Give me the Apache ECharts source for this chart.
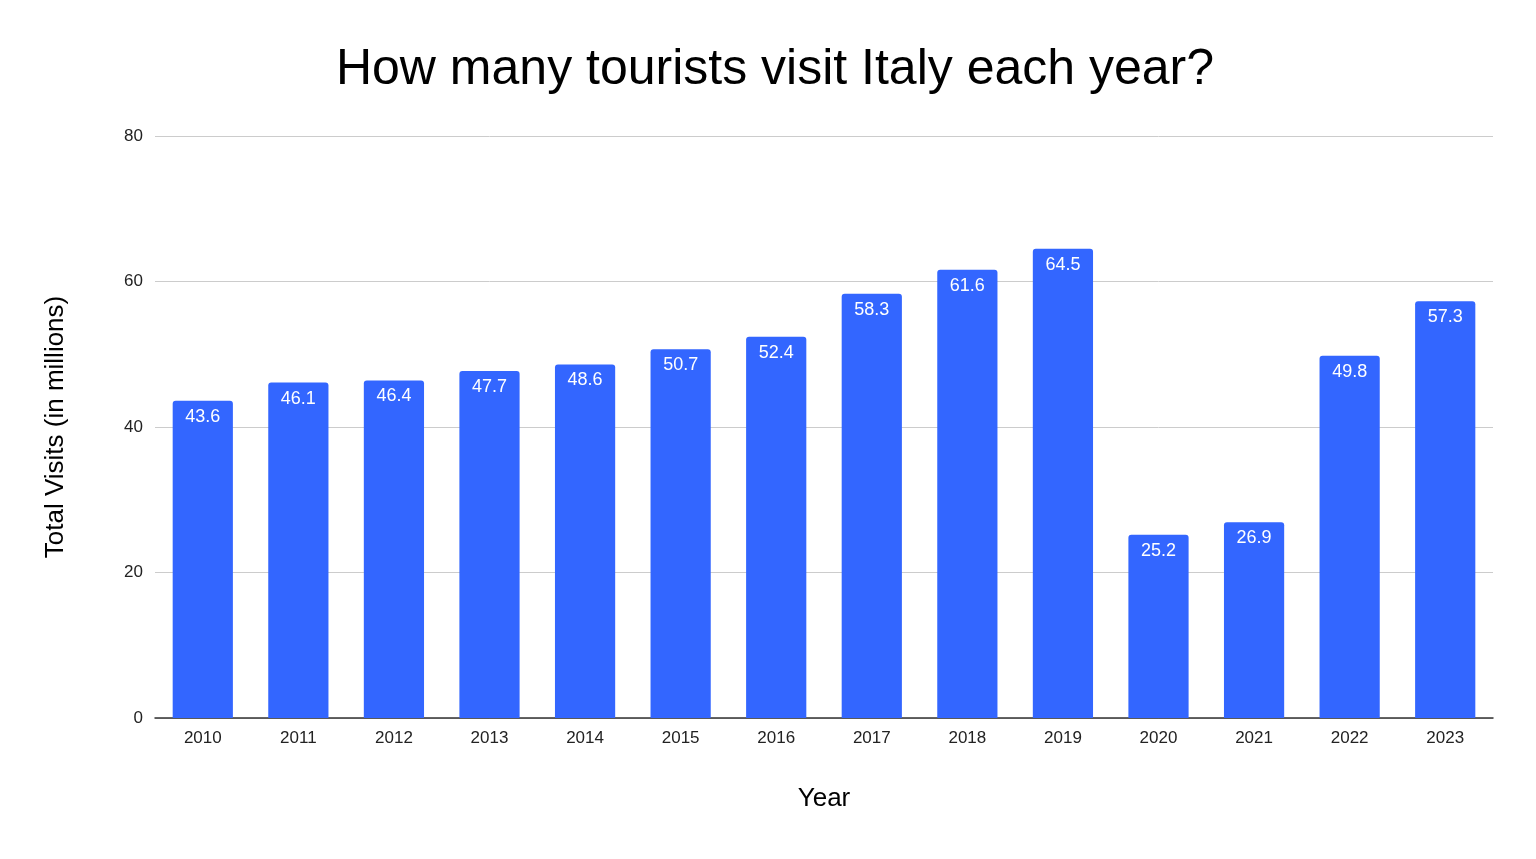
<!DOCTYPE html>
<html><head><meta charset="utf-8">
<script src="https://cdn.jsdelivr.net/npm/echarts@6/dist/echarts.min.js"></script>
<style>html,body{margin:0;padding:0;background:#fff}#c{width:1536px;height:859px}</style>
</head><body><div id="c"></div>
<script>
const years = ['2010','2011','2012','2013','2014','2015','2016','2017','2018','2019','2020','2021','2022','2023'];
const visits = [43.6,46.1,46.4,47.7,48.6,50.7,52.4,58.3,61.6,64.5,25.2,26.9,49.8,57.3];
const chart = echarts.init(document.getElementById('c'));
chart.setOption({
  animation:false,
  title:{text:'How many tourists visit Italy each year?',left:770,textAlign:'center',top:40,
    textStyle:{fontFamily:'Liberation Sans, Arial',fontSize:50,fontWeight:'normal',color:'#000'}},
  grid:{left:155,right:43,top:136,bottom:141},
  xAxis:{type:'category',data:years,name:'Year',nameLocation:'middle',nameGap:68,
    nameTextStyle:{fontFamily:'Liberation Sans, Arial',fontSize:26,color:'#000'},
    axisTick:{show:false},axisLine:{lineStyle:{color:'#333',width:1.5}},
    axisLabel:{fontFamily:'Liberation Sans, Arial',fontSize:17,color:'#222',margin:12}},
  yAxis:{type:'value',min:0,max:80,interval:20,name:'Total Visits (in millions)',nameLocation:'middle',nameGap:86,
    nameTextStyle:{fontFamily:'Liberation Sans, Arial',fontSize:26,color:'#000'},
    splitLine:{lineStyle:{color:'#ccc'}},
    axisLabel:{fontFamily:'Liberation Sans, Arial',fontSize:17,color:'#222',margin:12}},
  series:[{type:'bar',data:visits,barWidth:'63%',
    itemStyle:{color:'#3366ff',borderRadius:[3,3,0,0]},
    label:{show:true,position:'insideTop',distance:7,color:'#fff',fontFamily:'Liberation Sans, Arial',fontSize:18}}]
});
</script></body></html>
